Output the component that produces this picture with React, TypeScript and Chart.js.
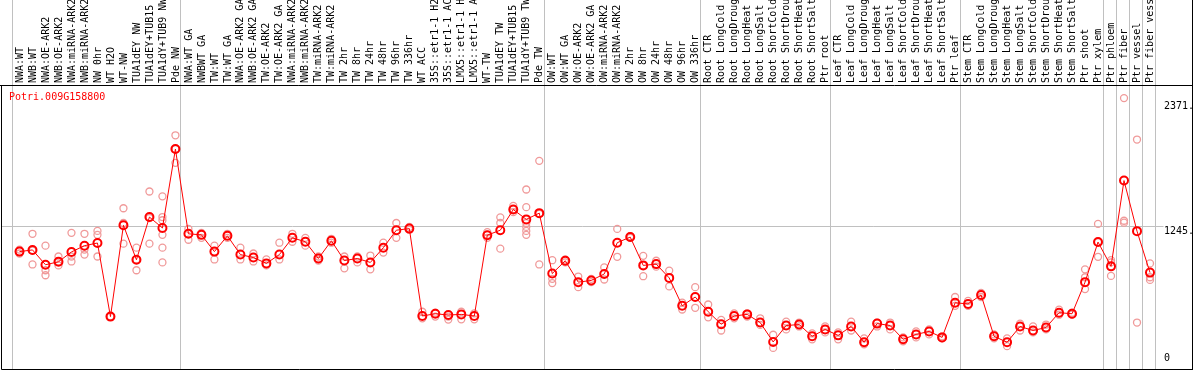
import { useEffect, useRef } from 'react';
import { Chart, registerables } from 'chart.js';

Chart.register(...registerables);

const geneName = 'Potri.009G158800';

const categories = [
  'NWA:WT', 'NWB:WT', 'NWA:OE-ARK2', 'NWB:OE-ARK2', 'NWA:miRNA-ARK2', 'NWB:miRNA-ARK2', 'NW 0hr', 'WT H2O', 'WT-NW',
  'TUA1dEY NW', 'TUA1dEY+TUB15 NW', 'TUA1dY+TUB9 NW', 'Pde NW',
  'NWA:WT GA', 'NWBWT GA', 'TW:WT', 'TW:WT GA', 'NWA:OE-ARK2 GA', 'NWB:OE-ARK2 GA', 'TW:OE-ARK2', 'TW:OE-ARK2 GA',
  'NWA:miRNA-ARK2 GA', 'NWB:miRNA-ARK2 GA', 'TW:miRNA-ARK2', 'TW:miRNA-ARK2 GA', 'TW 2hr', 'TW 8hr', 'TW 24hr', 'TW 48hr',
  'TW 96hr', 'TW 336hr', 'WT ACC', '35S::etr1-1 H2O', '35S::etr1-1 ACC', 'LMX5::etr1-1 H2O', 'LMX5::etr1-1 ACC', 'WT-TW',
  'TUA1dEY TW', 'TUA1dEY+TUB15 TW', 'TUA1dY+TUB9 TW', 'Pde TW',
  'OW:WT', 'OW:WT GA', 'OW:OE-ARK2', 'OW:OE-ARK2 GA', 'OW:miRNA-ARK2', 'OW:miRNA-ARK2 GA', 'OW 2hr', 'OW 8hr', 'OW 24hr',
  'OW 48hr', 'OW 96hr', 'OW 336hr',
  'Root CTR', 'Root LongCold', 'Root LongDrought', 'Root LongHeat', 'Root LongSalt', 'Root ShortCold', 'Root ShortDrought',
  'Root ShortHeat', 'Root ShortSalt', 'Ptr root',
  'Leaf CTR', 'Leaf LongCold', 'Leaf LongDrought', 'Leaf LongHeat', 'Leaf LongSalt', 'Leaf ShortCold', 'Leaf ShortDrought',
  'Leaf ShortHeat', 'Leaf ShortSalt', 'Ptr leaf',
  'Stem CTR', 'Stem LongCold', 'Stem LongDrought', 'Stem LongHeat', 'Stem LongSalt', 'Stem ShortCold', 'Stem ShortDrought',
  'Stem ShortHeat', 'Stem ShortSalt', 'Ptr shoot',
  'Ptr xylem', 'Ptr phloem', 'Ptr fiber', 'Ptr vessel', 'Ptr fiber vessel',
];

const meanValues = [
  1004, 1020, 880, 908, 1001, 1060, 1085, 391, 1252, 927, 1330, 1227, 1971,
  1172, 1162, 1004, 1153, 976, 948, 893, 976, 1134, 1097, 939, 1106, 920, 939, 902, 1041, 1206, 1221,
  397, 418, 406, 412, 397, 1159, 1206, 1401, 1308, 1367,
  797, 918, 716, 732, 793, 1088, 1141, 874, 886, 756, 493, 576,
  437, 319, 397, 412, 335, 152, 307, 316, 205, 270,
  214, 298, 149, 325, 307, 177, 223, 251, 195, 521,
  511, 595, 205, 149, 298, 260, 288, 428, 418, 716,
  1094, 865, 1674, 1197, 806,
];

const replicateValues = [
  [1023, 986], [1172, 1013, 883], [1060, 828, 781], [958, 911, 874], [1181, 958, 911], [1172, 1023, 976],
  [1199, 1162, 958], [391, 391], [1413, 1274, 1079], [1041, 930, 828], [1571, 1320, 1079],
  [1525, 1330, 1300, 1162, 1041, 902], [2101, 1971, 1841],
  [1218, 1116], [1181, 1134], [1060, 930], [1172, 1134], [1041, 930], [986, 911], [930, 874], [1088, 930],
  [1172, 1097], [1134, 1060], [958, 920], [1125, 1088], [958, 846], [958, 902], [967, 837], [1088, 995],
  [1274, 1134], [1237, 1209], [437, 375], [428, 391], [391, 363], [437, 365], [421, 365], [1187, 1162, 1134],
  [1327, 1274, 1032], [1435, 1404, 1376], [1590, 1423, 1274, 1237, 1199, 1162], [1860, 1360, 883],
  [923, 747, 707], [930, 902], [769, 669], [747, 716], [855, 741], [1218, 955], [1134, 1150], [964, 874, 772],
  [918, 862], [825, 676], [523, 458], [669, 474],
  [505, 384], [360, 260], [421, 375], [421, 391], [375, 313], [220, 96], [344, 270], [335, 298], [232, 177], [298, 242],
  [242, 177], [344, 260], [186, 130], [335, 298], [335, 270], [195, 158], [251, 195], [270, 223], [205, 186], [576, 493],
  [539, 493], [614, 576], [223, 186], [186, 112], [325, 260], [298, 242], [316, 270], [456, 409], [428, 409], [837, 762, 651],
  [1265, 1094, 955], [923, 902, 775], [2452, 1295, 1277], [2061, 335], [893, 762, 737],
];

const yTickValues = [0, 1245, 2371];
const yTickLabels = ['0', '1245.', '2371.'];
const yMin = -56;
const yMax = 2566;

// number of categories preceding each grey separator line
const separatorsAfter = [0, 13, 41, 53, 63, 73, 84, 85, 86, 87, 88];

const FONT = '10px "DejaVu Sans Mono", monospace';

const decorPlugin = {
  id: 'decor',
  beforeDatasetsDraw(chart: any) {
    const { ctx, chartArea, scales, width, height } = chart;
    const xs = scales.x;
    const ys = scales.y;
    ctx.save();
    ctx.lineWidth = 1;
    ctx.strokeStyle = '#c0c0c0';
    separatorsAfter.forEach((n) => {
      const px = Math.round(xs.getPixelForValue(n - 1) + 5) + 0.5;
      ctx.beginPath();
      ctx.moveTo(px, 0);
      ctx.lineTo(px, height);
      ctx.stroke();
    });
    const midTick = yTickValues[1];
    const gy = Math.round(ys.getPixelForValue(midTick)) + 0.5;
    ctx.beginPath();
    ctx.moveTo(2, gy);
    ctx.lineTo(chartArea.right + 7, gy);
    ctx.stroke();

    // black frame
    ctx.strokeStyle = '#000000';
    const top = Math.round(chartArea.top) - 0.5;
    ctx.beginPath();
    ctx.moveTo(0, top);
    ctx.lineTo(width - 1.5, top);
    ctx.moveTo(1.5, top);
    ctx.lineTo(1.5, height - 0.5);
    ctx.lineTo(width - 1.5, height - 0.5);
    ctx.moveTo(width - 1.5, 0);
    ctx.lineTo(width - 1.5, height);
    ctx.stroke();

    // gene name
    ctx.fillStyle = '#ff0000';
    ctx.font = FONT;
    ctx.textAlign = 'left';
    ctx.textBaseline = 'middle';
    ctx.fillText(geneName, 9, chartArea.top + 11);

    // y tick labels
    ctx.fillStyle = '#000000';
    yTickValues.forEach((v, i) => {
      const py = ys.getPixelForValue(v);
      const isEnd = i === 0 || i === yTickValues.length - 1;
      ctx.textBaseline = isEnd ? 'middle' : 'top';
      ctx.fillText(yTickLabels[i], chartArea.right + 7.5, isEnd ? py : py + 0.5);
    });
    ctx.restore();
  },
};

export default function App() {
  const canvasRef = useRef<HTMLCanvasElement | null>(null);

  useEffect(() => {
    document.body.style.margin = '0';
    const canvas = canvasRef.current;
    if (!canvas) return;

    const replicatePoints: { x: string; y: number }[] = [];
    replicateValues.forEach((reps, i) => {
      reps.forEach((v) => replicatePoints.push({ x: categories[i], y: v }));
    });

    const chart = new Chart(canvas, {
      type: 'line',
      data: {
        labels: categories,
        datasets: [
          {
            label: 'mean',
            data: meanValues,
            borderColor: '#ff0000',
            borderWidth: 1,
            pointStyle: 'circle',
            pointRadius: 4,
            pointBorderWidth: 2,
            pointBorderColor: '#ff0000',
            pointBackgroundColor: 'rgba(0,0,0,0)',
            tension: 0,
            order: 0,
          },
          {
            label: 'replicates',
            data: replicatePoints as any,
            showLine: false,
            pointStyle: 'circle',
            pointRadius: 3.5,
            pointBorderWidth: 1.3,
            pointBorderColor: '#f09a9a',
            pointBackgroundColor: 'rgba(0,0,0,0)',
            order: 1,
          },
        ],
      },
      options: {
        responsive: false,
        animation: false,
        devicePixelRatio: 1,
        layout: { padding: { left: 13, right: 0, top: 0, bottom: 2 } },
        plugins: {
          legend: { display: false },
          tooltip: { enabled: false },
          title: { display: false },
        },
        scales: {
          x: {
            type: 'category',
            position: 'top',
            offset: true,
            grid: { display: false, drawTicks: false },
            border: { display: false },
            ticks: {
              autoSkip: false,
              minRotation: 90,
              maxRotation: 90,
              padding: 3,
              labelOffset: 12.5,
              color: '#000000',
              font: { family: '"DejaVu Sans Mono", monospace', size: 10 },
            },
            afterFit(scale: any) {
              scale.height = 86;
            },
          },
          y: {
            type: 'linear',
            position: 'right',
            min: yMin,
            max: yMax,
            grid: { display: false, drawTicks: false },
            border: { display: false },
            ticks: { display: false },
            afterBuildTicks(scale: any) {
              scale.ticks = yTickValues.map((v) => ({ value: v }));
            },
            afterFit(scale: any) {
              scale.width = 37.5;
            },
          },
        },
      },
      plugins: [decorPlugin],
    });

    return () => chart.destroy();
  }, []);

  return (
    <div style={{ position: 'fixed', left: 0, top: 0, width: 1194, height: 370, background: '#ffffff' }}>
      <canvas ref={canvasRef} width={1194} height={370} />
    </div>
  );
}
